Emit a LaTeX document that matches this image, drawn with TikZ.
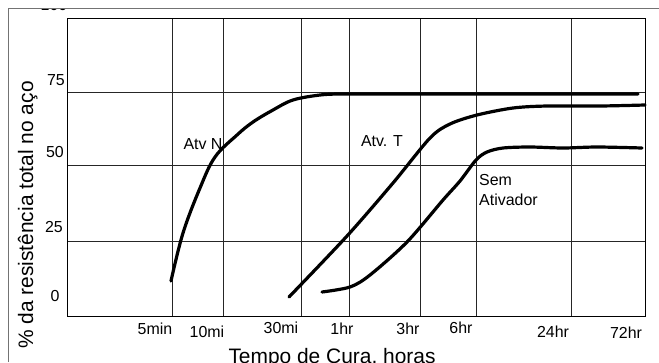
\documentclass[tikz,border=0pt]{standalone}
\usepackage{fontspec}
\setmainfont{Liberation Sans}
\tikzset{
  grade/.style={draw=black!85, line width=0.8bp},
  curva/.style={line width=3.2bp, line join=round, line cap=round},
  rotulo/.style={inner sep=0pt, font=\fontsize{16}{20}\selectfont},
  titulo/.style={inner sep=0pt, font=\fontsize{21}{25}\selectfont, anchor=base},
}
\begin{document}
\begin{tikzpicture}[x=1bp,y=-1bp]
		\useasboundingbox (0,0) rectangle (659,362);
		\node[rotulo] (YE) at (54,5) {100};
		\fill[white] (0,0) rectangle (659,8);
		\draw[black!55, line width=0.9bp] (8,362) -- (8,8) -- (659,8);
		
		\foreach \x in {172,223,301,349,420,476,571} \draw[grade] (\x,18) -- (\x,316);
		\foreach \y in {92,165,241} \draw[grade] (67,\y) -- (645,\y);
		\draw[black, line width=0.9bp] (67,18) rectangle (645,316);
		
		\node[rotulo] (YD) at (56,80) {75};
		\node[rotulo] (YC) at (55,152) {50};
		\node[rotulo] (YB) at (54,227) {25};
		\node[rotulo] (YA) at (55,296) {0};
		
		\node[rotulo] (XA) at (155,329) {5min};
		\node[rotulo] (XB) at (207,332) {10mi};
		\node[rotulo] (XC) at (281,328) {30mi};
		\node[rotulo] (XD) at (342,329) {1hr};
		\node[rotulo] (XE) at (408,329) {3hr};
		\node[rotulo] (XF) at (461,328) {6hr};
		\node[rotulo] (XG) at (553,332) {24hr};
		\node[rotulo] (XH) at (626,333) {72hr};
		
		\node[titulo] (TX) at (332,363) {Tempo de Cura, horas};
		\node[titulo, rotate=90] (TY) at (33,215) {\% da resistência total no aço};
		
		\draw[curva] plot[smooth, tension=0.6] coordinates {(171,281) (183,233) (200,188) (215,157) (237,135) (253,122) (273,110) (293,100) (320,95) (340,94)} -- (638,94);
		\draw[curva] plot[smooth, tension=0.5] coordinates {(289,297) (347,236) (393,183) (430,138) (450,124) (477,115) (513,108) (547,106) (600,106) (645,105)};
		\draw[curva] plot[smooth, tension=0.5] coordinates {(322,292) (350,287) (370,275) (407,242) (443,200) (460,181) (476,160) (487,152) (503,148) (530,147) (563,148) (597,147) (642,148)};
		
		\node[rotulo] (LN) at (203,144) {Atv N};
		\node[rotulo] (LT) at (382,141) {Atv. T};
		\node[rotulo, align=left, anchor=west] (LS) at (479,190) {Sem\\Ativador};
\end{tikzpicture}
\end{document}
